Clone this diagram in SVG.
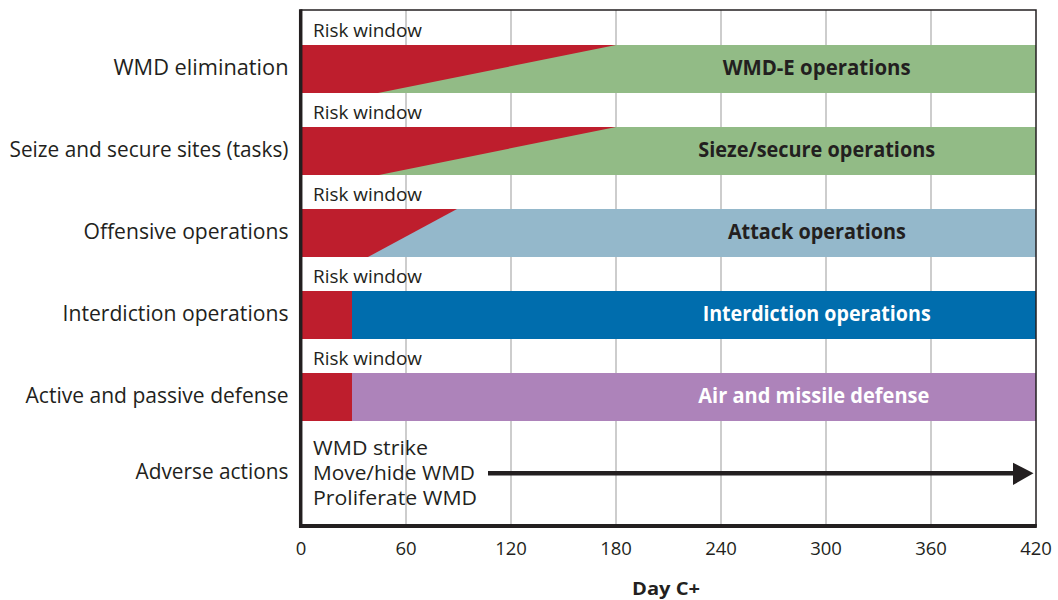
<svg xmlns="http://www.w3.org/2000/svg" width="1058" height="600" viewBox="0 0 1058 600">
<style>
text{font-family:"Open Sans","Noto Sans","Liberation Sans",sans-serif;fill:#231F20}
.lbl{font-size:21px;text-anchor:end}
.risk{font-size:17.5px}
.bar{font-size:20.5px;font-weight:bold;text-anchor:middle}
.w{fill:#FFFFFF}
.tick{font-size:18.5px;text-anchor:middle}
.adv{font-size:20px}
.grid{stroke:#BDBDBD;stroke-width:1.5}
.red{fill:#BE1E2D}
</style>
<rect width="1058" height="600" fill="#FFFFFF"/>
<g id="grid">
<line class="grid" x1="406" y1="10" x2="406" y2="526"/>
<line class="grid" x1="511" y1="10" x2="511" y2="526"/>
<line class="grid" x1="616" y1="10" x2="616" y2="526"/>
<line class="grid" x1="721" y1="10" x2="721" y2="526"/>
<line class="grid" x1="826" y1="10" x2="826" y2="526"/>
<line class="grid" x1="931" y1="10" x2="931" y2="526"/>
</g>
<g id="row-wmd-elimination">
<text class="lbl" x="288.5" y="75" textLength="175" lengthAdjust="spacingAndGlyphs">WMD elimination</text>
<text class="risk" x="313" y="36.5" textLength="109" lengthAdjust="spacingAndGlyphs">Risk window</text>
<rect class="red" x="301" y="45" width="315" height="48"/>
<polygon points="378,93 616,45 1036,45 1036,93" fill="#92BB86"/>
<text class="bar" x="816.7" y="75" textLength="188" lengthAdjust="spacingAndGlyphs">WMD-E operations</text>
</g>
<g id="row-seize-secure">
<text class="lbl" x="288.5" y="157" textLength="279" lengthAdjust="spacingAndGlyphs">Seize and secure sites (tasks)</text>
<text class="risk" x="313" y="118.5" textLength="109" lengthAdjust="spacingAndGlyphs">Risk window</text>
<rect class="red" x="301" y="127" width="315" height="48"/>
<polygon points="379,175 616,127 1036,127 1036,175" fill="#92BB86"/>
<text class="bar" x="816.7" y="157" textLength="237" lengthAdjust="spacingAndGlyphs">Sieze/secure operations</text>
</g>
<g id="row-offensive">
<text class="lbl" x="288.5" y="239" textLength="205" lengthAdjust="spacingAndGlyphs">Offensive operations</text>
<text class="risk" x="313" y="200.5" textLength="109" lengthAdjust="spacingAndGlyphs">Risk window</text>
<rect class="red" x="301" y="209" width="157" height="48"/>
<polygon points="368,257 457,209 1036,209 1036,257" fill="#94B8CB"/>
<text class="bar" x="816.9" y="238.5" textLength="178" lengthAdjust="spacingAndGlyphs">Attack operations</text>
</g>
<g id="row-interdiction">
<text class="lbl" x="288.5" y="321" textLength="226" lengthAdjust="spacingAndGlyphs">Interdiction operations</text>
<text class="risk" x="313" y="282.5" textLength="109" lengthAdjust="spacingAndGlyphs">Risk window</text>
<rect class="red" x="301" y="291" width="52" height="48"/>
<rect x="352" y="291" width="684" height="48" fill="#006DAD"/>
<text class="bar w" x="816.7" y="320.5" textLength="228" lengthAdjust="spacingAndGlyphs">Interdiction operations</text>
</g>
<g id="row-defense">
<text class="lbl" x="288.5" y="403" textLength="263" lengthAdjust="spacingAndGlyphs">Active and passive defense</text>
<text class="risk" x="313" y="364.5" textLength="109" lengthAdjust="spacingAndGlyphs">Risk window</text>
<rect class="red" x="301" y="373" width="52" height="48"/>
<rect x="352" y="373" width="684" height="48" fill="#AD83BA"/>
<text class="bar w" x="813.8" y="402.5" textLength="231" lengthAdjust="spacingAndGlyphs">Air and missile defense</text>
</g>
<g id="row-adverse">
<text class="lbl" x="288.5" y="478.5" textLength="153" lengthAdjust="spacingAndGlyphs">Adverse actions</text>
<text class="adv" x="313" y="455" textLength="115" lengthAdjust="spacingAndGlyphs">WMD strike</text>
<text class="adv" x="313" y="480" textLength="162" lengthAdjust="spacingAndGlyphs">Move/hide WMD</text>
<text class="adv" x="313" y="505" textLength="164" lengthAdjust="spacingAndGlyphs">Proliferate WMD</text>
</g>
<g id="connectors">
<line x1="488" y1="473.3" x2="1015" y2="473.3" stroke="#231F20" stroke-width="4.5"/>
<polygon points="1013,462.7 1033.5,473.3 1013,485" fill="#231F20"/>
</g>
<g id="axes">
<rect x="301" y="10" width="735" height="516" fill="none" stroke="#231F20" stroke-width="1.5"/>
<line x1="300.7" y1="9.3" x2="300.7" y2="528" stroke="#231F20" stroke-width="3.5"/>
<line x1="299" y1="526" x2="1036.8" y2="526" stroke="#231F20" stroke-width="4"/>
<text class="tick" x="301" y="555">0</text>
<text class="tick" x="406" y="555">60</text>
<text class="tick" x="511" y="555">120</text>
<text class="tick" x="616" y="555">180</text>
<text class="tick" x="721" y="555">240</text>
<text class="tick" x="826" y="555">300</text>
<text class="tick" x="931" y="555">360</text>
<text class="tick" x="1036" y="555">420</text>
<text x="666" y="594.5" font-size="18px" font-weight="bold" text-anchor="middle" textLength="68" lengthAdjust="spacingAndGlyphs">Day C+</text>
</g>
</svg>
